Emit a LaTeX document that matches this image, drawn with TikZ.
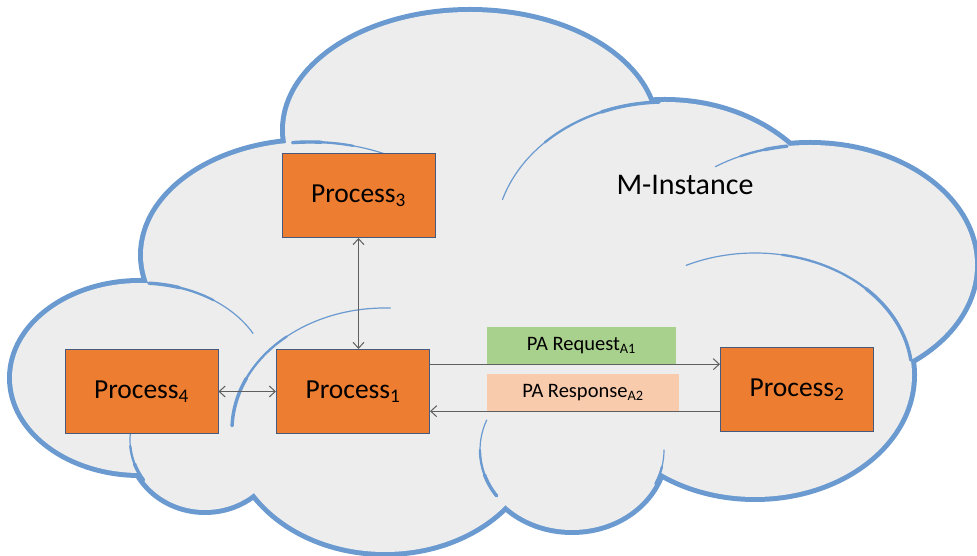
\documentclass[tikz,border=0pt]{standalone}
\usepackage{fontspec}
\setmainfont{Carlito}
\usetikzlibrary{arrows.meta}
\definecolor{cloudblue}{RGB}{106,154,208}
\definecolor{cloudgray}{RGB}{237,237,237}
\definecolor{procorange}{RGB}{237,125,49}
\definecolor{boxedge}{RGB}{70,90,125}
\definecolor{reqgreen}{RGB}{169,209,142}
\definecolor{resppeach}{RGB}{248,203,173}
\definecolor{linkgray}{RGB}{95,95,95}
\tikzset{
  lobe/.style={draw=cloudblue, line width=10pt},
  lobefill/.style={fill=cloudgray},
  seam/.style={draw=cloudblue, line width=1.2pt, line cap=round},
  seammid/.style={draw=cloudblue, line width=2.3pt, line cap=round},
  seamthick/.style={draw=cloudblue, line width=3.4pt, line cap=round},
  procbox/.style={draw=boxedge, fill=procorange, line width=1pt,
    minimum width=153pt, minimum height=84pt, inner sep=0pt,
    font=\fontsize{27.5}{32}\selectfont},
  msgbox/.style={minimum height=37pt, inner sep=0pt,
    font=\fontsize{20.5}{24}\selectfont},
  link/.style={draw=linkgray, line width=1pt},
  tip/.tip={Straight Barb[length=6pt,width=11pt]},
}
\newcommand{\Proc}[1]{Process\textsubscript{#1}}

\begin{document}
\begin{tikzpicture}[x=1pt, y=1pt]
\useasboundingbox (0,0) rectangle (977,556);

% cloud outline
\draw[lobe] (470,426) ellipse[x radius=185, y radius=118];
\draw[lobe] (310,301) ellipse[x radius=167, y radius=113];
\draw[lobe] (140,178) ellipse[x radius=128, y radius=95];
\draw[lobe] (205,116) ellipse[x radius=75, y radius=70];
\draw[lobe] (385,126) ellipse[x radius=153, y radius=122];
\draw[lobe] (572,106) ellipse[x radius=92, y radius=80];
\draw[lobe] (755,181) ellipse[x radius=157, y radius=122];
\draw[lobe] (810,291) ellipse[x radius=165, y radius=120];
\draw[lobe] (665,316) ellipse[x radius=170, y radius=138];

% cloud body
\fill[lobefill] (470,426) ellipse[x radius=185, y radius=118];
\fill[lobefill] (310,301) ellipse[x radius=167, y radius=113];
\fill[lobefill] (140,178) ellipse[x radius=128, y radius=95];
\fill[lobefill] (205,116) ellipse[x radius=75, y radius=70];
\fill[lobefill] (385,126) ellipse[x radius=153, y radius=122];
\fill[lobefill] (572,106) ellipse[x radius=92, y radius=80];
\fill[lobefill] (755,181) ellipse[x radius=157, y radius=122];
\fill[lobefill] (810,291) ellipse[x radius=165, y radius=120];
\fill[lobefill] (665,316) ellipse[x radius=170, y radius=138];
\fill[lobefill] (300,96) rectangle (700,356);

% inner seams, thin at the free end
\draw[seam] (310,301) ++(96:167 and 113) arc[start angle=96, end angle=58, x radius=167, y radius=113];
\draw[seammid] (310,301) ++(96:167 and 113) arc[start angle=96, end angle=75, x radius=167, y radius=113];
\draw[seamthick] (310,301) ++(96:167 and 113) arc[start angle=96, end angle=86, x radius=167, y radius=113];
\draw[seam] (140,178) ++(86:128 and 95) arc[start angle=86, end angle=28, x radius=128, y radius=95];
\draw[seammid] (140,178) ++(86:128 and 95) arc[start angle=86, end angle=55, x radius=128, y radius=95];
\draw[seamthick] (140,178) ++(86:128 and 95) arc[start angle=86, end angle=72, x radius=128, y radius=95];
\draw[seam] (385,126) ++(178:153 and 122) arc[start angle=178, end angle=88, x radius=153, y radius=122];
\draw[seammid] (385,126) ++(178:153 and 122) arc[start angle=178, end angle=130, x radius=153, y radius=122];
\draw[seamthick] (385,126) ++(178:153 and 122) arc[start angle=178, end angle=155, x radius=153, y radius=122];
\draw[seam] (205,116) ++(165:75 and 70) arc[start angle=165, end angle=215, x radius=75, y radius=70];
\draw[seammid] (205,116) ++(185:75 and 70) arc[start angle=185, end angle=215, x radius=75, y radius=70];
\draw[seamthick] (205,116) ++(200:75 and 70) arc[start angle=200, end angle=215, x radius=75, y radius=70];
\draw[seam] (572,106) ++(158:92 and 80) arc[start angle=158, end angle=215, x radius=92, y radius=80];
\draw[seammid] (572,106) ++(180:92 and 80) arc[start angle=180, end angle=215, x radius=92, y radius=80];
\draw[seamthick] (572,106) ++(198:92 and 80) arc[start angle=198, end angle=215, x radius=92, y radius=80];
\draw[seam] (572,106) ++(-25:92 and 80) arc[start angle=-25, end angle=0, x radius=92, y radius=80];
\draw[seammid] (572,106) ++(-25:92 and 80) arc[start angle=-25, end angle=-12, x radius=92, y radius=80];
\draw[seam] (755,181) ++(116:157 and 122) arc[start angle=116, end angle=7, x radius=157, y radius=122];
\draw[seammid] (755,181) ++(80:157 and 122) arc[start angle=80, end angle=7, x radius=157, y radius=122];
\draw[seamthick] (755,181) ++(45:157 and 122) arc[start angle=45, end angle=7, x radius=157, y radius=122];
\draw[seam] (665,316) ++(163:170 and 138) arc[start angle=163, end angle=92, x radius=170, y radius=138];
\draw[seammid] (665,316) ++(135:170 and 138) arc[start angle=135, end angle=92, x radius=170, y radius=138];
\draw[seamthick] (665,316) ++(112:170 and 138) arc[start angle=112, end angle=92, x radius=170, y radius=138];
\draw[seam] (810,291) ++(125:165 and 120) arc[start angle=125, end angle=98, x radius=165, y radius=120];
\draw[seammid] (810,291) ++(115:165 and 120) arc[start angle=115, end angle=98, x radius=165, y radius=120];
\draw[seamthick] (810,291) ++(106:165 and 120) arc[start angle=106, end angle=98, x radius=165, y radius=120];

\node[font=\fontsize{30}{35}\selectfont] (minst) at (685,371) {M-Instance};

\node[procbox] (p3) at (358.5,360.5) {\Proc{3}};
\node[procbox] (p1) at (353,164.5) {\Proc{1}};
\node[procbox] (p4) at (141.5,164.5) {\Proc{4}};
\node[procbox] (p2) at (797,166.5) {\Proc{2}};

\node[msgbox, fill=reqgreen, minimum width=189pt] (req) at (581.5,210.5) {PA Request\textsubscript{A1}};
\node[msgbox, fill=resppeach, minimum width=192pt] (resp) at (583,163.5) {PA Response\textsubscript{A2}};

\draw[link, tip-tip] (p3.south) -- (p3.south |- p1.north);
\draw[link, tip-tip] (p4.east) -- (p1.west);
\draw[link, -tip] (p1.east |- req.south) -- (p2.west |- req.south);
\draw[link, -tip] (p2.west |- resp.south) -- (p1.east |- resp.south);
\end{tikzpicture}
\end{document}
